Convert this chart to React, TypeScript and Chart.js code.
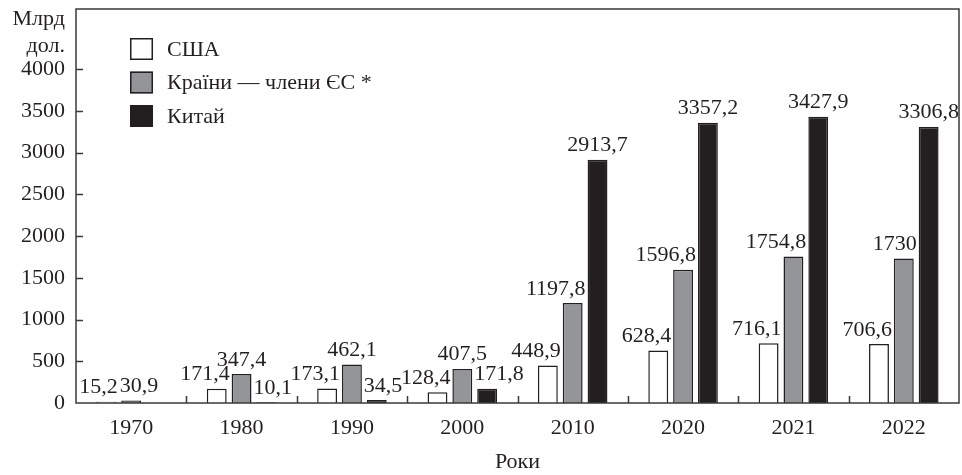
import React, { useEffect, useRef } from 'react';
import { Chart, registerables } from 'chart.js';

Chart.register(...registerables);

const categories = ['1970', '1980', '1990', '2000', '2010', '2020', '2021', '2022'];
const usaValues = [15.2, 171.4, 173.1, 128.4, 448.9, 628.4, 716.1, 706.6];
const euValues = [30.9, 347.4, 462.1, 407.5, 1197.8, 1596.8, 1754.8, 1730];
const chinaValues = [null, 10.1, 34.5, 171.8, 2913.7, 3357.2, 3427.9, 3306.8];
const seriesNames = ['США', 'Країни — члени ЄС *', 'Китай'];
const yTickValues = [0, 500, 1000, 1500, 2000, 2500, 3000, 3500, 4000];
const yUnitLines = ['Млрд', 'дол.'];
const xTitle = 'Роки';

const FAMILY = '"Liberation Serif", "DejaVu Serif", serif';
const FSIZE = 22;
const FONT = `${FSIZE}px ${FAMILY}`;
const INK = '#231f20';
const AXIS = '#3a3a3a';

const fmt = (v: number) => String(v).replace('.', ',');

const labelPlugin = {
  id: 'valueLabels',
  afterDatasetsDraw(chart: any) {
    const ctx = chart.ctx;
    ctx.save();
    ctx.font = FONT;
    ctx.fillStyle = INK;
    ctx.textAlign = 'center';
    ctx.textBaseline = 'alphabetic';
    const H = 14.5;
    const GAP = 8.5;
    const PAD = 2;
    const metas = chart.data.datasets.map((_: any, d: number) => chart.getDatasetMeta(d));
    for (let i = 0; i < categories.length; i++) {
      const bars: any[] = [];
      metas.forEach((m: any, d: number) => {
        const v = chart.data.datasets[d].data[i];
        if (v == null) return;
        const p = m.data[i].getProps(['x', 'y', 'base', 'width'], true);
        bars.push({ v, x: p.x, top: p.y, w: p.width });
      });
      const labels = bars.map((b) => {
        const text = fmt(b.v);
        const tw = ctx.measureText(text).width;
        const baseline = b.top - GAP;
        return { b, text, tw, cx: b.x, y0: baseline - H, y1: baseline };
      });
      for (const L of labels) {
        for (const o of bars) {
          if (o === L.b) continue;
          if (o.top >= L.y1) continue;
          const oL = o.x - o.w / 2;
          const oR = o.x + o.w / 2;
          if (o.x > L.b.x) {
            if (L.cx + L.tw / 2 > oL - PAD) L.cx = oL - PAD - L.tw / 2;
          } else {
            if (L.cx - L.tw / 2 < oR + PAD) L.cx = oR + PAD + L.tw / 2;
          }
        }
      }
      for (let pass = 0; pass < 4; pass++) {
        for (let j = 0; j < labels.length; j++) {
          for (let k = j + 1; k < labels.length; k++) {
            const A = labels[j];
            const B = labels[k];
            if (A.y1 <= B.y0 || B.y1 <= A.y0) continue;
            const ov = A.cx + A.tw / 2 + PAD - (B.cx - B.tw / 2);
            if (ov > 0) {
              A.cx -= ov / 2;
              B.cx += ov / 2;
            }
          }
        }
      }
      for (const L of labels) ctx.fillText(L.text, L.cx, L.y1);
    }
    ctx.restore();
  },
};

const decorPlugin = {
  id: 'decor',
  afterDraw(chart: any) {
    const { ctx, chartArea: a, scales } = chart;
    const xs = scales.x;
    const ys = scales.y;
    ctx.save();
    ctx.strokeStyle = AXIS;
    ctx.lineWidth = 1.5;
    ctx.strokeRect(a.left, a.top, a.right - a.left, a.bottom - a.top);
    ctx.beginPath();
    for (const v of yTickValues) {
      if (v === 0) continue;
      const py = Math.round(ys.getPixelForValue(v)) + 0.5;
      ctx.moveTo(a.left, py);
      ctx.lineTo(a.left + 7, py);
    }
    for (let i = 1; i < categories.length; i++) {
      const px = Math.round((xs.getPixelForTick(i - 1) + xs.getPixelForTick(i)) / 2) + 0.5;
      ctx.moveTo(px, a.bottom);
      ctx.lineTo(px, a.bottom - 7);
    }
    ctx.stroke();

    ctx.font = FONT;
    ctx.fillStyle = INK;
    ctx.textAlign = 'right';
    ctx.textBaseline = 'alphabetic';
    ctx.fillText(yUnitLines[0], a.left - 11, 25);
    ctx.fillText(yUnitLines[1], a.left - 11, 52);

    // legend
    const ds = chart.data.datasets;
    ctx.textAlign = 'left';
    ctx.textBaseline = 'middle';
    ds.forEach((d: any, i: number) => {
      const bx = a.left + 54;
      const by = 38 + i * 33.5;
      ctx.fillStyle = d.backgroundColor;
      ctx.fillRect(bx, by, 23, 22);
      ctx.lineWidth = 1.5;
      ctx.strokeStyle = INK;
      ctx.strokeRect(bx + 0.75, by + 0.75, 21.5, 20.5);
      ctx.fillStyle = INK;
      ctx.fillText(d.label, bx + 37, by + 12);
    });
    ctx.restore();
  },
};

export default function App() {
  const ref = useRef<HTMLCanvasElement>(null);
  useEffect(() => {
    const chart = new Chart(ref.current as HTMLCanvasElement, {
      type: 'bar',
      data: {
        labels: categories,
        datasets: [
          { label: seriesNames[0], data: usaValues, backgroundColor: '#ffffff', borderColor: INK, borderWidth: 1.5 },
          { label: seriesNames[1], data: euValues, backgroundColor: '#939598', borderColor: INK, borderWidth: 1.5 },
          { label: seriesNames[2], data: chinaValues as any, backgroundColor: INK, borderColor: INK, borderWidth: 1.5 },
        ],
      },
      options: {
        animation: false,
        responsive: false,
        devicePixelRatio: 1,
        categoryPercentage: 0.675,
        barPercentage: 0.8,
        layout: { padding: { top: 9, right: 3, left: 0, bottom: 0 } },
        plugins: { legend: { display: false }, tooltip: { enabled: false } },
        scales: {
          x: {
            grid: { display: false, drawTicks: false },
            border: { display: false },
            ticks: { color: INK, font: { family: FAMILY, size: FSIZE }, padding: 12, maxRotation: 0 },
            title: { display: true, text: xTitle, color: INK, font: { family: FAMILY, size: FSIZE, lineHeight: 1.2 }, padding: 0 },
            afterFit: (s: any) => { s.height = 72; s.paddingLeft = 0; s.paddingRight = 0; },
          },
          y: {
            min: 0,
            max: 4720,
            grid: { display: false, drawTicks: false },
            border: { display: false },
            ticks: { color: INK, font: { family: FAMILY, size: FSIZE }, padding: 11, callback: (v: any) => String(v) },
            afterBuildTicks: (s: any) => { s.ticks = yTickValues.map((v) => ({ value: v })); },
            afterFit: (s: any) => { s.width = 76; s.paddingTop = 0; s.paddingBottom = 0; },
          },
        },
      } as any,
      plugins: [labelPlugin, decorPlugin],
    });
    return () => chart.destroy();
  }, []);
  return (
    <div style={{ position: 'absolute', left: 0, top: 0, width: 962, height: 475, background: '#fff' }}>
      <canvas ref={ref} width={962} height={475} style={{ display: 'block', width: 962, height: 475 }} />
    </div>
  );
}
